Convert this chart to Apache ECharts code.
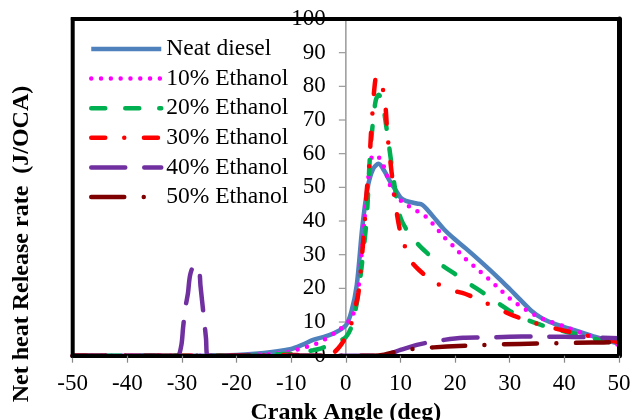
<!DOCTYPE html>
<html>
<head>
<meta charset="utf-8">
<script src="https://cdn.jsdelivr.net/npm/echarts@6/dist/echarts.min.js"></script>
<style>
html,body{margin:0;padding:0;background:#fff;}
#chart{width:632px;height:420px;}
</style>
</head>
<body>
<div id="chart"></div>
<script>
// ---- data (crank angle deg, heat release J/°CA) ----
const seriesNames = ['Neat diesel', '10% Ethanol', '20% Ethanol', '30% Ethanol', '40% Ethanol', '50% Ethanol'];
const xTicks = [-50, -40, -30, -20, -10, 0, 10, 20, 30, 40, 50];
const yTicks = [0, 10, 20, 30, 40, 50, 60, 70, 80, 90, 100];

const neatDiesel = [[-50,0],[-25,0],[-20,0.2],[-15,0.8],[-10,2],[-8,3.2],[-6,4.7],[-4,5.6],[-2,6.8],[0,9],[1,13],[2,21],[3,38],[4,50],[5,55.5],[6,57],[7,55],[8,52],[9,49.5],[10,47],[11,46],[13,45.2],[14,44.8],[15,43.2],[16,41.3],[18,37.5],[20,34.5],[22,31.8],[25,27.5],[28,23],[30,19.8],[32,16.5],[34,13.3],[36,11],[38,9.6],[40,8.5],[43,7],[46,5.4],[50,3.6]];

const ethanol10 = [[-50,0],[-22,0],[-19,0.2],[-15,0.4],[-13,0.6],[-10,1.3],[-8,2.3],[-6,3.2],[-4,4.7],[-2,6.8],[-1,8],[0,9.5],[1,11],[2,16],[2.6,25],[3.5,42],[4.2,54],[5,59.5],[6,59],[7,56],[8,51],[9,47.5],[11,45],[13,43],[14.5,41.5],[16,39],[18,35.2],[20,32],[22,28.6],[24,25.8],[26,23],[28,20],[30,17],[33,13.6],[36,11],[40,8.7],[45,5.7],[50,3.2]];

const ethanol20 = [[-50,0],[-20,0],[-15,0.3],[-10,0.6],[-8,1],[-6,1.6],[-4.5,2.2],[-3,3.2],[-2,3.8],[-1,4.5],[0,5.5],[1,8.5],[2,15.7],[2.9,26.6],[3.8,40.5],[4.4,59],[5,70],[5.5,76],[6,77.5],[6.6,76],[7.5,67],[8.4,56.4],[9.3,46.5],[10,41],[11.1,37.5],[13,33.5],[14.8,30.6],[17,27.5],[19.7,24.6],[22,22],[25.2,18.6],[28,15.5],[30.1,13.2],[33,10.8],[35.6,9.2],[38,8],[41.7,6.6],[45,5.2],[49,3.8],[50,3.5]];

const ethanol30 = [[-50,0],[-20,0],[-12,0.2],[-8,0.2],[-5,0],[-3,0.2],[-2,1.2],[-1,3],[0,5.5],[1,9.5],[1.5,13],[2.3,18.6],[2.9,28.6],[3.5,40.5],[3.8,48.5],[4.3,57],[4.6,66],[4.9,72.8],[5.2,79],[5.6,82.8],[6.2,82],[6.6,80.5],[7.2,75],[7.6,66],[8.1,58.4],[8.7,50],[9.3,42.6],[10,36.5],[10.5,34],[11.7,28.6],[13.3,25.6],[16,22.1],[19.1,19.6],[21.8,18.4],[25.1,16.1],[28.3,13.6],[30.7,11.9],[33.8,10.1],[38,8.2],[43.5,6.2],[50,4]];

const ethanol40 = [[-50,0],[-31,0],[-30.7,0],[-30.1,3.2],[-29.8,8.2],[-29.4,14],[-28.9,18.6],[-28.5,24],[-27.7,27],[-26.9,25.6],[-26.6,20.6],[-26.1,13],[-25.6,5.2],[-25.3,0],[-20,0],[0,0],[6.5,0],[8,0.6],[10,1.7],[13,3.2],[15,3.9],[18,4.7],[21.5,5.3],[25,5.4],[30,5.6],[34.5,5.7],[40,5.6],[44,5.5],[50,5.2]];

const ethanol50 = [[-50,0],[0,0],[5,0],[7,0.3],[9.3,1.2],[11.5,1.8],[13.6,2.2],[18.5,2.7],[22.8,3],[25.2,3.2],[31.8,3.5],[38.3,3.7],[45,3.9],[50,4]];

const seriesData = [neatDiesel, ethanol10, ethanol20, ethanol30, ethanol40, ethanol50];
const seriesColors = ['#4F81BD', '#FF00FF', '#00B050', '#FF0000', '#7030A0', '#7F0000'];
const seriesDash = ['solid', [0, 9.8], [14, 20], [14, 19, 0, 19.7], [34, 19], [33, 19.5, 0, 19.5]];
const seriesCap = ['butt', 'round', 'round', 'round', 'round', 'round'];
const lineW = 4.5;

const serif = '"Liberation Serif", "Times New Roman", serif';

const chart = echarts.init(document.getElementById('chart'), null, {renderer: 'canvas'});

const series = seriesNames.map((name, i) => ({
  name: name,
  type: 'line',
  xAxisIndex: 0,
  yAxisIndex: 0,
  data: seriesData[i],
  smooth: 0.3,
  symbol: 'none',
  showSymbol: false,
  animation: false,
  z: 2 + i,
  lineStyle: {color: seriesColors[i], width: lineW, type: seriesDash[i], cap: seriesCap[i]},
  itemStyle: {color: seriesColors[i]}
}));

const legendData = seriesNames.map((name, i) => ({
  name: name,
  itemStyle: {opacity: 0},
  lineStyle: {color: seriesColors[i], width: lineW, type: seriesDash[i], cap: seriesCap[i], opacity: 1}
}));

const G = {left: 72.7, right: 13, top: 19, bottom: 64.3};

chart.setOption({
  animation: false,
  backgroundColor: '#fff',
  grid: {left: G.left, right: G.right, top: G.top, bottom: G.bottom, containLabel: false, outerBoundsMode: 'none'},
  legend: {
    orient: 'vertical',
    left: 89, top: 37, padding: 0,
    itemWidth: 70, itemHeight: 14, itemGap: 5.6,
    textStyle: {fontFamily: serif, fontSize: 23.5, color: '#000', lineHeight: 24},
    data: legendData
  },
  xAxis: [{
    type: 'value', position: 'bottom', min: -50, max: 50, interval: 10,
    z: 20,
    name: 'Crank Angle (deg)', nameLocation: 'middle', nameGap: 40,
    nameTextStyle: {fontFamily: serif, fontSize: 24, fontWeight: 'bold', color: '#000'},
    axisLine: {show: true, onZero: false, lineStyle: {color: '#000', width: 4}},
    axisTick: {show: true, length: 7, lineStyle: {color: '#888', width: 1.2}},
    axisLabel: {fontFamily: serif, fontSize: 23, color: '#000', margin: 17,
      formatter: v => xTicks.includes(v) ? String(v) : ''},
    splitLine: {show: false}
  }, {
    type: 'value', position: 'top', min: -50, max: 50, z: 20,
    axisLine: {show: true, onZero: false, lineStyle: {color: '#000', width: 4}},
    axisTick: {show: false}, axisLabel: {show: false}, splitLine: {show: false}
  }],
  yAxis: [{
    type: 'value', position: 'left', min: 0, max: 100, interval: 10,
    axisLine: {show: false, onZero: false},
    axisTick: {show: false},
    axisLabel: {show: false},
    splitLine: {show: false}
  }, {
    type: 'value', position: 'right', min: 0, max: 100, z: 20,
    axisLine: {show: true, onZero: false, lineStyle: {color: '#000', width: 5}},
    axisTick: {show: false}, axisLabel: {show: false}, splitLine: {show: false}
  }],
  graphic: [{
    id: 'leftBorder',
    type: 'line',
    z: 100,
    silent: true,
    shape: {x1: G.left, y1: G.top - 2, x2: G.left, y2: 420 - G.bottom + 2},
    style: {stroke: '#000000', lineWidth: 4}
  }, {
    id: 'yTitle',
    type: 'text',
    x: 22, y: 244,
    rotation: Math.PI / 2,
    style: {
      text: 'Net heat Release rate  (J/OCA)',
      fontFamily: serif, fontSize: 24, fontWeight: 'bold', fill: '#000',
      align: 'center', verticalAlign: 'middle'
    }
  }],
  series: series
});

// The y axis crosses the x axis at crank angle 0: place its line, ticks and
// labels through the chart's own scales.
const origin = chart.convertToPixel({gridIndex: 0}, [0, 0]);
const topPt = chart.convertToPixel({gridIndex: 0}, [0, 100]);
const yAxisGraphics = [{
  id: 'yAxisLine',
  type: 'line',
  z: 1,
  silent: true,
  shape: {x1: origin[0], y1: topPt[1], x2: origin[0], y2: origin[1]},
  style: {stroke: '#999', lineWidth: 1.5}
}];
yTicks.forEach(v => {
  const p = chart.convertToPixel({gridIndex: 0}, [0, v]);
  yAxisGraphics.push({
    id: 'yTick' + v,
    type: 'line',
    z: 1,
    silent: true,
    shape: {x1: p[0] - 7, y1: p[1], x2: p[0], y2: p[1]},
    style: {stroke: '#999', lineWidth: 1.2}
  });
  yAxisGraphics.push({
    id: 'yLabel' + v,
    type: 'text',
    z: 1,
    silent: true,
    x: p[0] - 20,
    y: p[1],
    style: {
      text: String(v),
      fontFamily: serif, fontSize: 23, fill: '#000',
      align: 'right', verticalAlign: 'middle'
    }
  });
});
chart.setOption({graphic: yAxisGraphics});
</script>
</body>
</html>
